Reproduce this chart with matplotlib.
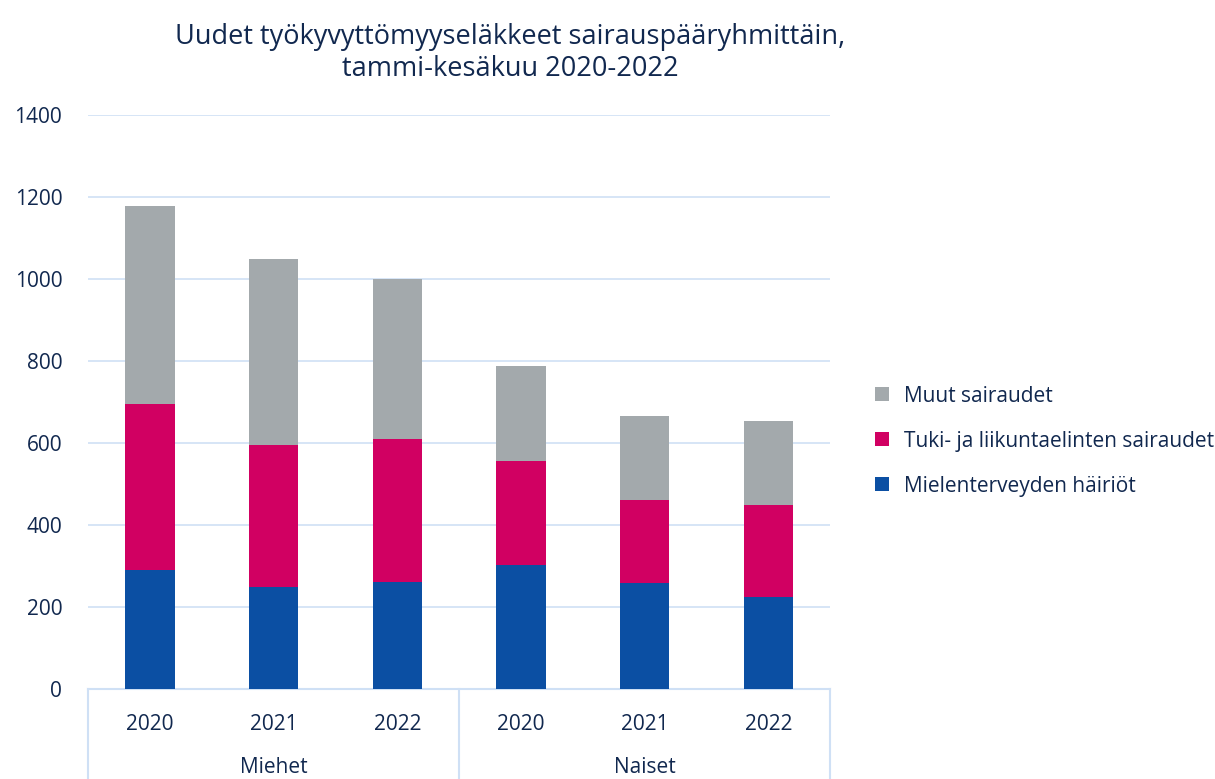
import numpy as np
import matplotlib.pyplot as plt

plt.rcParams['font.family'] = ['Open Sans', 'DejaVu Sans']

years = ['2020', '2021', '2022', '2020', '2021', '2022']
groups = ['Miehet', 'Naiset']
mental = [291, 250, 262, 303, 258, 225]
musculo = [404, 345, 348, 252, 203, 225]
other = [482, 455, 390, 233, 205, 204]

col_mental = '#0b4fa3'
col_musc = '#d10062'
col_other = '#a3a9ac'
txt = '#11284f'
grid = '#cfe0f5'
fs = 15

fig = plt.figure(figsize=(12.15, 7.79), dpi=100)
ax = fig.add_axes([0.0724, 0.1155, 0.611, 0.7368])

x = np.arange(len(years))
w = 0.4
b1 = ax.bar(x, mental, w, color=col_mental, label='Mielenterveyden häiriöt', zorder=3)
b2 = ax.bar(x, musculo, w, bottom=mental, color=col_musc,
            label='Tuki- ja liikuntaelinten sairaudet', zorder=3)
bottom2 = np.array(mental) + np.array(musculo)
b3 = ax.bar(x, other, w, bottom=bottom2, color=col_other, label='Muut sairaudet', zorder=3)

ax.set_xlim(-0.5, 5.5)
ax.set_ylim(0, 1400)
ax.set_yticks(np.arange(0, 1401, 200))
ax.yaxis.grid(True, color=grid, linewidth=1.2, zorder=0)
ax.set_axisbelow(True)
for s in ['top', 'right', 'left']:
    ax.spines[s].set_visible(False)
ax.spines['bottom'].set_color(grid)
ax.spines['bottom'].set_linewidth(1.5)
ax.tick_params(axis='y', length=0, labelsize=fs, labelcolor=txt, pad=18.5)
ax.set_xticks(x)
ax.set_xticklabels(years)
ax.tick_params(axis='x', length=0, labelsize=fs, labelcolor=txt, pad=18)

# group labels and separators
for i, g in enumerate(groups):
    ax.text(1 + 3 * i, -0.137, g, transform=ax.get_xaxis_transform(),
            ha='center', va='center', fontsize=fs, color=txt)
for xs in [-0.5, 2.5, 5.5]:
    ax.plot([xs, xs], [0, -0.22], transform=ax.get_xaxis_transform(),
            color=grid, linewidth=1.5, clip_on=False)

fig.text(0.42, 0.932, 'Uudet työkyvyttömyyseläkkeet sairauspääryhmittäin,\ntammi-kesäkuu 2020-2022',
         ha='center', va='center', fontsize=19.5, color=txt, linespacing=1.2)

leg = ax.legend(handles=[b3, b2, b1], loc='center left', bbox_to_anchor=(1.035, 0.432),
                frameon=False, fontsize=fs, handlelength=0.65, handleheight=0.65,
                labelspacing=1.15, handletextpad=0.75)
for t in leg.get_texts():
    t.set_color(txt)

plt.savefig('out.png', dpi=100)
